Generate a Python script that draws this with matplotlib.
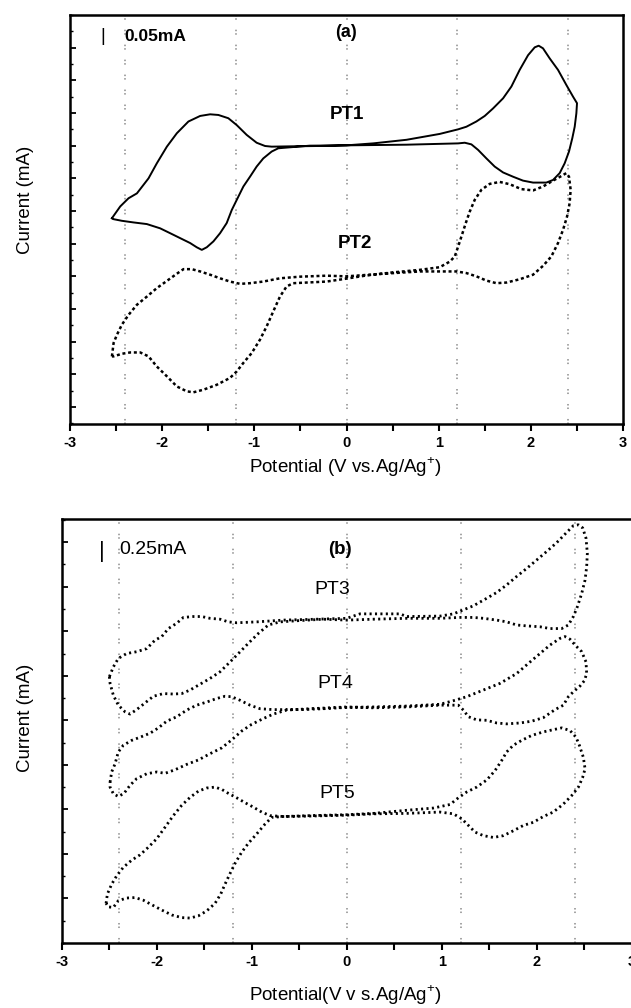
import numpy as np
import matplotlib.pyplot as plt
from matplotlib.ticker import MultipleLocator, NullFormatter

plt.rcParams['font.family'] = ['Liberation Sans', 'DejaVu Sans']
plt.rcParams['mathtext.fontset'] = 'custom'
plt.rcParams['mathtext.rm'] = 'Liberation Sans'

# guide lines (V)
guide_v = [-2.4, -1.2, 0.0, 1.2, 2.4]
x_ticks = [-3, -2, -1, 0, 1, 2, 3]

# panel (a): PT1 (solid) and PT2 (dashed), (V, current in tick units)
pt1 = [(-2.545, 5.78), (-2.455, 6.14), (-2.365, 6.39), (-2.274, 6.54), (-2.148, 7.00),
       (-2.058, 7.46), (-1.949, 7.97), (-1.841, 8.38), (-1.715, 8.74), (-1.588, 8.91),
       (-1.480, 8.96), (-1.390, 8.94), (-1.282, 8.84), (-1.191, 8.63), (-1.083, 8.33),
       (-0.975, 8.09), (-0.884, 7.99), (-0.812, 7.97), (-0.6, 7.98), (-0.3, 7.99),
       (0.0, 8.01), (0.289, 8.07), (0.651, 8.18), (1.012, 8.36), (1.211, 8.50),
       (1.301, 8.58), (1.409, 8.74), (1.500, 8.91), (1.590, 9.14), (1.699, 9.45),
       (1.789, 9.81), (1.879, 10.32), (1.970, 10.77), (2.042, 11.01), (2.085, 11.06),
       (2.132, 10.98), (2.205, 10.67), (2.295, 10.32), (2.385, 9.86), (2.458, 9.50),
       (2.501, 9.30), (2.494, 8.99), (2.476, 8.58), (2.450, 8.23), (2.414, 7.82),
       (2.367, 7.46), (2.313, 7.16), (2.241, 6.95), (2.168, 6.87), (2.024, 6.87),
       (1.915, 6.93), (1.807, 7.05), (1.699, 7.18), (1.608, 7.36), (1.518, 7.61),
       (1.428, 7.87), (1.355, 8.04), (1.283, 8.09), (1.211, 8.07), (0.651, 8.03),
       (0.0, 8.01), (-0.4, 8.00), (-0.740, 7.92), (-0.812, 7.82), (-0.903, 7.61),
       (-0.975, 7.36), (-1.047, 7.05), (-1.119, 6.75), (-1.191, 6.34), (-1.245, 6.03),
       (-1.300, 5.63), (-1.372, 5.32), (-1.444, 5.07), (-1.516, 4.89), (-1.570, 4.81),
       (-1.625, 4.89), (-1.697, 5.02), (-1.805, 5.17), (-1.913, 5.32), (-2.022, 5.47),
       (-2.166, 5.60), (-2.310, 5.65), (-2.437, 5.70), (-2.527, 5.75), (-2.545, 5.78)]

pt2 = [(-2.545, 1.55), (-2.527, 1.96), (-2.491, 2.21), (-2.437, 2.52), (-2.365, 2.82),
       (-2.274, 3.13), (-2.166, 3.38), (-2.058, 3.64), (-1.949, 3.86), (-1.841, 4.08),
       (-1.769, 4.22), (-1.679, 4.22), (-1.588, 4.15), (-1.480, 4.05), (-1.372, 3.94),
       (-1.264, 3.84), (-1.155, 3.77), (-1.047, 3.79), (-0.903, 3.84), (-0.722, 3.94),
       (-0.505, 3.99), (-0.217, 4.02), (0.0, 4.00), (0.4, 4.08), (0.8, 4.15),
       (1.0, 4.15), (1.193, 4.15), (1.301, 4.10), (1.409, 4.00), (1.518, 3.87),
       (1.626, 3.79), (1.735, 3.81), (1.879, 3.91), (2.024, 4.05), (2.132, 4.32),
       (2.223, 4.61), (2.295, 5.02), (2.349, 5.42), (2.393, 5.83), (2.421, 6.24),
       (2.432, 6.65), (2.414, 7.05), (2.385, 7.16), (2.331, 7.07), (2.241, 6.93),
       (2.132, 6.75), (2.024, 6.63), (1.897, 6.67), (1.771, 6.82), (1.662, 6.89),
       (1.554, 6.83), (1.464, 6.65), (1.391, 6.34), (1.337, 5.98), (1.294, 5.63),
       (1.247, 5.22), (1.211, 4.91), (1.175, 4.61), (1.120, 4.45), (1.012, 4.28),
       (0.8, 4.20), (0.5, 4.12), (0.2, 4.02), (0.0, 3.93), (-0.217, 3.84),
       (-0.433, 3.81), (-0.578, 3.79), (-0.650, 3.69), (-0.722, 3.38), (-0.794, 2.93),
       (-0.866, 2.47), (-0.939, 2.06), (-1.029, 1.65), (-1.119, 1.35), (-1.191, 1.09),
       (-1.264, 0.89), (-1.408, 0.68), (-1.552, 0.53), (-1.661, 0.45), (-1.733, 0.48),
       (-1.841, 0.63), (-1.949, 0.94), (-2.058, 1.24), (-2.148, 1.55), (-2.238, 1.67),
       (-2.347, 1.67), (-2.437, 1.63), (-2.527, 1.55), (-2.545, 1.55)]

# panel (b): PT3, PT4, PT5 (dotted)
pt3 = [(-2.498, 5.98), (-2.456, 6.20), (-2.404, 6.39), (-2.316, 6.50), (-2.211, 6.54),
       (-2.105, 6.61), (-2.018, 6.80), (-1.947, 6.88), (-1.877, 7.06), (-1.789, 7.18),
       (-1.719, 7.31), (-1.614, 7.33), (-1.526, 7.33), (-1.439, 7.29), (-1.333, 7.27),
       (-1.246, 7.21), (-1.158, 7.19), (-0.947, 7.21), (-0.667, 7.25), (-0.316, 7.27),
       (0.0, 7.29), (0.14, 7.39), (0.56, 7.39), (0.632, 7.33), (0.982, 7.34),
       (1.123, 7.39), (1.228, 7.48), (1.333, 7.57), (1.474, 7.74), (1.579, 7.87),
       (1.684, 8.04), (1.789, 8.23), (1.895, 8.41), (2.0, 8.60), (2.105, 8.79),
       (2.211, 8.99), (2.316, 9.22), (2.386, 9.37), (2.439, 9.39), (2.484, 9.32),
       (2.519, 9.09), (2.533, 8.75), (2.526, 8.45), (2.509, 8.15), (2.474, 7.85),
       (2.428, 7.55), (2.386, 7.33), (2.333, 7.14), (2.263, 7.06), (2.140, 7.06),
       (2.035, 7.10), (1.895, 7.12), (1.789, 7.14), (1.684, 7.21), (1.579, 7.25),
       (1.439, 7.29), (1.333, 7.31), (1.193, 7.31), (0.982, 7.29), (0.632, 7.29),
       (0.281, 7.27), (0.0, 7.25), (-0.246, 7.27), (-0.491, 7.24), (-0.702, 7.21),
       (-0.825, 7.14), (-0.930, 6.95), (-1.035, 6.73), (-1.140, 6.50), (-1.228, 6.31),
       (-1.333, 6.09), (-1.439, 5.94), (-1.544, 5.81), (-1.649, 5.68), (-1.737, 5.60),
       (-1.825, 5.59), (-1.930, 5.60), (-2.035, 5.54), (-2.123, 5.39), (-2.211, 5.24),
       (-2.281, 5.14), (-2.333, 5.19), (-2.404, 5.34), (-2.456, 5.56), (-2.491, 5.83),
       (-2.498, 5.98)]

pt4 = [(-2.491, 3.61), (-2.474, 3.84), (-2.439, 4.02), (-2.404, 4.29), (-2.351, 4.44),
       (-2.263, 4.55), (-2.175, 4.62), (-2.070, 4.71), (-1.982, 4.83), (-1.895, 4.98),
       (-1.789, 5.08), (-1.684, 5.23), (-1.579, 5.34), (-1.474, 5.41), (-1.368, 5.49),
       (-1.281, 5.54), (-1.211, 5.53), (-1.123, 5.45), (-1.018, 5.34), (-0.912, 5.26),
       (-0.772, 5.24), (-0.491, 5.24), (-0.246, 5.26), (0.0, 5.29), (0.281, 5.30),
       (0.632, 5.32), (0.982, 5.36), (1.123, 5.44), (1.263, 5.53), (1.439, 5.68),
       (1.614, 5.83), (1.789, 6.05), (1.930, 6.31), (2.035, 6.50), (2.140, 6.69),
       (2.246, 6.84), (2.298, 6.88), (2.351, 6.82), (2.404, 6.69), (2.474, 6.54),
       (2.519, 6.31), (2.526, 6.05), (2.502, 5.89), (2.456, 5.77), (2.386, 5.64),
       (2.333, 5.53), (2.281, 5.34), (2.193, 5.24), (2.070, 5.06), (1.947, 4.98),
       (1.825, 4.94), (1.684, 4.92), (1.579, 4.94), (1.474, 5.00), (1.368, 5.01),
       (1.281, 5.08), (1.228, 5.23), (1.175, 5.34), (0.982, 5.34), (0.632, 5.30),
       (0.281, 5.28), (0.0, 5.30), (-0.386, 5.26), (-0.632, 5.23), (-0.772, 5.14),
       (-0.877, 5.04), (-1.0, 4.91), (-1.105, 4.76), (-1.211, 4.56), (-1.316, 4.38),
       (-1.439, 4.25), (-1.561, 4.11), (-1.684, 4.01), (-1.807, 3.89), (-1.912, 3.81),
       (-2.0, 3.84), (-2.105, 3.80), (-2.211, 3.69), (-2.281, 3.54), (-2.344, 3.36),
       (-2.404, 3.29), (-2.456, 3.35), (-2.491, 3.50), (-2.491, 3.61)]

pt5 = [(-2.533, 0.89), (-2.519, 1.10), (-2.474, 1.32), (-2.421, 1.51), (-2.351, 1.70),
       (-2.263, 1.86), (-2.175, 1.98), (-2.088, 2.15), (-2.0, 2.34), (-1.912, 2.60),
       (-1.825, 2.86), (-1.737, 3.09), (-1.649, 3.27), (-1.561, 3.41), (-1.474, 3.48),
       (-1.386, 3.50), (-1.316, 3.45), (-1.246, 3.36), (-1.158, 3.26), (-1.070, 3.15),
       (-0.982, 3.05), (-0.895, 2.94), (-0.807, 2.86), (-0.667, 2.84), (-0.386, 2.86),
       (0.0, 2.88), (0.281, 2.91), (0.632, 2.98), (0.912, 3.03), (1.088, 3.11),
       (1.175, 3.26), (1.263, 3.39), (1.368, 3.50), (1.474, 3.66), (1.561, 3.87),
       (1.632, 4.10), (1.684, 4.29), (1.754, 4.44), (1.842, 4.55), (1.947, 4.66),
       (2.070, 4.74), (2.175, 4.79), (2.263, 4.83), (2.351, 4.77), (2.414, 4.62),
       (2.449, 4.44), (2.491, 4.17), (2.509, 3.91), (2.484, 3.72), (2.439, 3.50),
       (2.368, 3.31), (2.281, 3.12), (2.175, 2.94), (2.070, 2.84), (1.965, 2.71),
       (1.860, 2.64), (1.754, 2.52), (1.649, 2.41), (1.544, 2.37), (1.439, 2.41),
       (1.351, 2.49), (1.281, 2.64), (1.211, 2.79), (1.123, 2.90), (0.982, 2.94),
       (0.632, 2.91), (0.281, 2.90), (0.0, 2.87), (-0.386, 2.85), (-0.667, 2.84),
       (-0.789, 2.82), (-0.860, 2.67), (-0.947, 2.45), (-1.035, 2.24), (-1.105, 2.04),
       (-1.175, 1.79), (-1.228, 1.56), (-1.281, 1.32), (-1.326, 1.10), (-1.386, 0.89),
       (-1.474, 0.72), (-1.561, 0.61), (-1.649, 0.56), (-1.737, 0.57), (-1.842, 0.63),
       (-1.947, 0.74), (-2.053, 0.86), (-2.140, 0.96), (-2.228, 1.02), (-2.316, 1.01),
       (-2.404, 0.95), (-2.456, 0.80), (-2.509, 0.81), (-2.533, 0.89)]


def style_axes(ax, ylim, ymaj_start):
    ax.set_xlim(-3, 3)
    ax.set_ylim(*ylim)
    for v in guide_v:
        ax.axvline(v, color='#8c8c8c', lw=1.1, ls=(0, (1, 1.3, 1, 6.5)), zorder=0)
    for s in ax.spines.values():
        s.set_linewidth(1.8)
    ax.set_xticks(x_ticks)
    ax.set_xticklabels([str(t) for t in x_ticks], fontweight='bold', fontsize=10.5)
    ax.xaxis.set_minor_locator(MultipleLocator(0.5))
    ax.tick_params(axis='x', which='both', direction='out', length=5, width=1.5, pad=3.5)
    ax.set_yticks(np.arange(ymaj_start, ylim[1], 1.0))
    ax.yaxis.set_minor_locator(MultipleLocator(0.5))
    ax.yaxis.set_major_formatter(NullFormatter())
    ax.tick_params(axis='y', which='major', direction='in', length=4.5, width=1.3)
    ax.tick_params(axis='y', which='minor', direction='in', length=2.5, width=1.0)


fig = plt.figure(figsize=(6.31, 10.08), dpi=100)
W, H = 631.0, 1008.0

# ---- panel (a)
ax1 = fig.add_axes([70 / W, 1 - 424 / H, 553 / W, 409 / H])
style_axes(ax1, (-0.52, 12.0), 0.0)
v, i = zip(*pt1)
ax1.plot(v, i, color='black', lw=1.4)
v, i = zip(*pt2)
ax1.plot(v, i, color='black', lw=1.8, ls=(0, (1.2, 1.1)))
ax1.text(-2.64, 11.33, '|', fontsize=13, ha='center', va='center')
ax1.text(-2.41, 11.33, '0.05mA', fontsize=12.5, fontweight='bold', ha='left', va='center')
ax1.text(0.0, 11.45, '(a)', fontsize=13, fontweight='bold', ha='center', va='center')
ax1.text(0.0, 8.94, 'PT1', fontsize=13.5, fontweight='bold', ha='center', va='center')
ax1.text(0.09, 5.02, 'PT2', fontsize=13.5, fontweight='bold', ha='center', va='center')

fig.text(25 / W, 1 - 200 / H, 'Current (mA)', rotation=90, ha='center', va='center', fontsize=13.5)
fig.text(345 / W, 1 - 467 / H, 'Potential (V vs.Ag/Ag$^{+}$)', ha='center', va='center',
         fontsize=13.5)

# ---- panel (b)
ax2 = fig.add_axes([61.7 / W, 1 - 943 / H, 570 / W, 424 / H])
style_axes(ax2, (0.0, 9.52), 1.0)
dot = dict(color='black', lw=2.0, ls=(0, (0.75, 1.2)))
for curve in (pt3, pt4, pt5):
    v, i = zip(*curve)
    ax2.plot(v, i, **dot)
ax2.text(-2.58, 8.78, '|', fontsize=16, ha='center', va='center')
ax2.text(-2.39, 8.84, '0.25mA', fontsize=14, ha='left', va='center')
ax2.text(-0.07, 8.84, '(b)', fontsize=13.5, fontweight='bold', ha='center', va='center')
ax2.text(-0.15, 7.93, 'PT3', fontsize=14, ha='center', va='center')
ax2.text(-0.12, 5.83, 'PT4', fontsize=14, ha='center', va='center')
ax2.text(-0.10, 3.36, 'PT5', fontsize=14, ha='center', va='center')

fig.text(25 / W, 1 - 718 / H, 'Current (mA)', rotation=90, ha='center', va='center', fontsize=13.5)
fig.text(345 / W, 1 - 995 / H, 'Potential(V v s.Ag/Ag$^{+}$)', ha='center', va='center',
         fontsize=13.5)

fig.savefig('out.png', dpi=100)
